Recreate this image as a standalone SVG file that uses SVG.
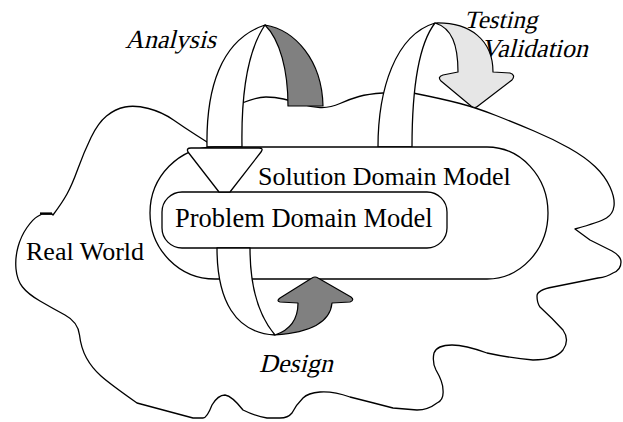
<svg xmlns="http://www.w3.org/2000/svg" width="623" height="422" viewBox="0 0 623 422">
  <style>
    .ln { fill: #ffffff; stroke: #000000; stroke-width: 1.3; stroke-linejoin: round; }
    .dark { fill: #808080; stroke: #000000; stroke-width: 1.2; stroke-linejoin: round; }
    .light { fill: #e6e6e6; stroke: #000000; stroke-width: 1.2; stroke-linejoin: round; }
    .lbl { font-family: "Liberation Serif", "Times New Roman", serif; font-size: 26px; fill: #000000; }
  </style>
  <rect width="623" height="422" fill="#ffffff"/>

  <!-- Real World cloud -->
  <g id="real-world">
    <path class="ln" d="M137,403 Q110,384 101,376 Q92,368 86.5,358 Q81,348 79.5,335 Q78,322 65,315 Q52,308 40,301 Q28,294 22.5,287 Q17,280 16,269 Q15,258 18,247 Q21,236 27,227.5 Q33,219 37.5,216.5 L42,214 L52,214 L53,215 Q62,203 67,194 Q72,185 78,168.5 Q84,152 91,137.5 Q98,123 106.5,116 Q115,109 125,107 Q135,105 148.5,108.5 Q162,112 173.5,120 Q185,128 196,135 L207,142 L225,128 L242,103 Q257,97 266,97 Q275,97 283.5,99 Q292,101 301,104 Q310,107 320,107.5 Q330,108 340,103.5 Q350,99 359,96.5 Q368,94 383,93 L413,93 Q443,99 460,103.5 Q477,108 496,115.5 Q515,123 534,131 Q553,139 569,148 Q585,157 595,166.5 Q605,176 610,187 Q615,198 614,206 Q613,214 606.5,218 Q600,222 575,229 L590,240 L612,251 Q621,256 621,262 Q621,270 613,273 Q607,277 598,278 L553,287 Q537,290 537,296 Q537,303 540,307 Q552,318 563,330 Q570,340 563,350 Q555,360 533,360 Q510,358 487,353 Q465,345 452,345 Q437,345 434,353 Q432,362 436,370 Q443,382 443,390 Q444,400 437,403 Q428,410 417,410 L393,408 Q370,402 350,397 Q333,391 320,392 Q308,393 303,398 Q296,405 292,413 Q288,418 280,418 Q272,418 267,418 Q255,416 243,410 Q232,396 225,395 Q218,395 212,405 Q207,418 203,418 L193,418 Z"/>
    <line x1="40" y1="213.5" x2="52" y2="213.5" stroke="#000" stroke-width="2.2"/>
    <text class="lbl" x="26" y="260">Real World</text>
  </g>

  <!-- Analysis arrow: back face and arch -->
  <g id="analysis">
    <path class="dark" d="M265,25 C295,30 322,60 323,106 L288,106 C288,70 280,40 265,25 Z"/>
    <path class="ln" d="M207,147 C206,90 220,40 265,25 C248,50 241,90 242,147 Z"/>
    <text class="lbl" transform="translate(125,48) skewX(-14)">Analysis</text>
  </g>

  <!-- Testing / validation arrow -->
  <g id="testing">
    <text class="lbl" transform="translate(481,57) skewX(-14)">Validation</text>
    <path class="light" d="M435,23 C470,22 493,40 493,72 L510,73 Q516,75 512,80 L478,106 Q475,109 471,106 L441,81 Q437,77 443,75 L458,72 C458,45 452,28 435,23 Z"/>
    <path class="ln" d="M378,147 C378,90 395,35 435,23 C418,45 412,90 412,147 Z"/>
    <text class="lbl" transform="translate(464,28) skewX(-14)" style="font-size:25px">Testing</text>
  </g>

  <!-- Solution Domain Model -->
  <g id="solution-domain">
    <path class="ln" d="M215,147 H487 A61,66 0 0 1 487,279 H215 A65,66 0 0 1 215,147 Z"/>
    <text class="lbl" x="258" y="185">Solution Domain Model</text>
  </g>

  <!-- Problem Domain Model -->
  <g id="problem-domain">
    <rect class="ln" x="162" y="192" width="285" height="56" rx="20" ry="20"/>
    <text class="lbl" x="175" y="227" style="font-size:26.5px">Problem Domain Model</text>
  </g>

  <!-- Design arrow -->
  <g id="design">
    <path class="ln" d="M217,248 C217,300 235,333 275,335 C258,315 250,285 250,248 Z"/>
    <path class="dark" d="M275,335 C305,333 330,325 332,303 L350,302 Q355,300 351,297 L318,278 Q315,276 312,278 L280,298 Q276,301 280,302 L298,303 C298,320 290,330 275,335 Z"/>
    <text class="lbl" transform="translate(259,372) skewX(-14)">Design</text>
  </g>

  <!-- Analysis arrowhead entering the solution domain -->
  <g id="connectors">
    <path class="ln" d="M191,148 L259,148 Q264,148 261,152 L230,192 L219,192 L188,152 Q186,148 191,148 Z"/>
  </g>
</svg>
